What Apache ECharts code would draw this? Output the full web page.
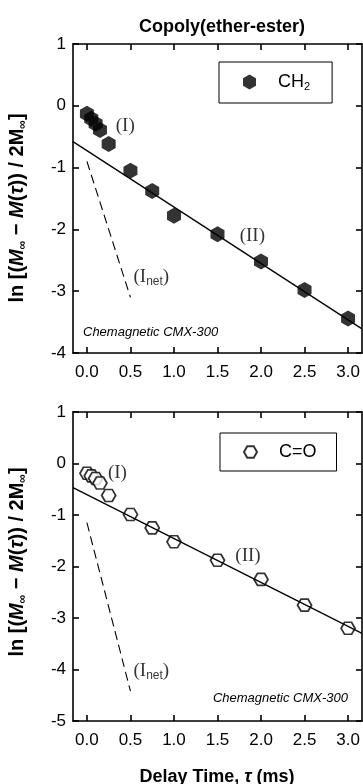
<!DOCTYPE html>
<html>
<head>
<meta charset="utf-8">
<script src="https://cdn.jsdelivr.net/npm/echarts@6/dist/echarts.min.js"></script>
<style>
html,body{margin:0;padding:0;background:#fff;}
#chart{width:363px;height:784px;}
</style>
</head>
<body>
<div id="chart"></div>
<script>
// ---- data ----
const xTicks = [0, 0.5, 1, 1.5, 2, 2.5, 3];
const tau = [0, 0.05, 0.1, 0.15, 0.25, 0.5, 0.75, 1, 1.5, 2, 2.5, 3];
const ch2 = [-0.13, -0.21, -0.29, -0.39, -0.62, -1.05, -1.38, -1.78, -2.08, -2.52, -2.98, -3.44];
const co = [-0.19, -0.24, -0.29, -0.38, -0.62, -0.99, -1.25, -1.52, -1.88, -2.25, -2.75, -3.2];
const fitX = [-0.16, 3.16];
const ch2Fit = [-0.58, -3.61];
const coFit = [-0.47, -3.30];
const netX = [0, 0.5];
const ch2Net = [-0.9, -3.1];
const coNet = [-1.15, -4.42];
const topLabels = [['(I)', 0.44, -0.33], ['(II)', 1.9, -2.1], ['(Inet)', 0.74, -2.77]];
const botLabels = [['(I)', 0.35, -0.19], ['(II)', 1.85, -1.8], ['(Inet)', 0.74, -4.02]];

const SANS = 'Arial, "Liberation Sans", Helvetica, sans-serif';
const SERIF = '"Times New Roman", "Liberation Serif", serif';
const hex = 'path://M0,-1 L0.866,-0.5 L0.866,0.5 L0,1 L-0.866,0.5 L-0.866,-0.5 Z';
const hexFlat = 'path://M-1,0 L-0.5,-0.866 L0.5,-0.866 L1,0 L0.5,0.866 L-0.5,0.866 Z';

const zip = (xs, ys) => xs.map((x, i) => [x, ys[i]]);

function xAxes(gi) {
  const base = {
    type: 'value', gridIndex: gi, min: -0.16, max: 3.16,
    splitLine: {show: false},
    axisLine: {show: true, onZero: false, lineStyle: {color: '#000', width: 1.6}},
    axisTick: {show: true, inside: true, length: 6, customValues: xTicks, lineStyle: {color: '#000', width: 1.6}}
  };
  return [
    Object.assign({}, base, {position: 'bottom',
      axisLabel: {show: true, customValues: xTicks, margin: 11, color: '#000', fontSize: 17, fontFamily: SANS,
        formatter: v => v.toFixed(1)}}),
    Object.assign({}, base, {position: 'top', axisLabel: {show: false}})
  ];
}
function yAxes(gi, min) {
  const base = {
    type: 'value', gridIndex: gi, min: min, max: 1, interval: 1,
    splitLine: {show: false},
    axisLine: {show: true, onZero: false, lineStyle: {color: '#000', width: 1.6}},
    axisTick: {show: true, inside: true, length: 6, lineStyle: {color: '#000', width: 1.6}}
  };
  return [
    Object.assign({}, base, {position: 'left',
      axisLabel: {show: true, margin: 7, color: '#000', fontSize: 17, fontFamily: SANS}}),
    Object.assign({}, base, {position: 'right', axisLabel: {show: false}})
  ];
}

const annRich = {
  t: {fontFamily: SERIF, fontSize: 19, color: '#000', lineHeight: 22},
  s: {fontFamily: SANS, fontSize: 12, color: '#000', lineHeight: 11, verticalAlign: 'bottom', padding: [7, 0, 0, 0]}
};
function annFmt(p) {
  const n = p.data[2];
  if (n === '(Inet)') return '{t|(I}{s|net}{t|)}';
  return '{t|' + n + '}';
}
function annSeries(xi, yi, list) {
  return {
    type: 'scatter', xAxisIndex: xi, yAxisIndex: yi, symbolSize: 0, silent: true,
    data: list.map(d => [d[1], d[2], d[0]]),
    label: {show: true, position: 'inside', formatter: annFmt, rich: annRich}
  };
}

const yTitleRich = {
  b: {fontFamily: SANS, fontWeight: 'bold', fontSize: 20, color: '#000', lineHeight: 23},
  i: {fontFamily: SANS, fontWeight: 'bold', fontStyle: 'italic', fontSize: 20, color: '#000', lineHeight: 23},
  s: {fontFamily: SANS, fontWeight: 'bold', fontSize: 12, color: '#000', lineHeight: 12, verticalAlign: 'bottom', padding: [7, 0, 0, 0]}
};
const yTitleText = '{b|ln [(}{i|M}{s|∞}{b| − }{i|M}{b|(}{i|τ}{b|)) / 2M}{s|∞}{b|]}';

const chart = echarts.init(document.getElementById('chart'), null, {renderer: 'canvas'});
chart.setOption({
  animation: false,
  backgroundColor: '#fff',
  grid: [
    {left: 73, top: 44, width: 289, height: 309},
    {left: 73, top: 412, width: 289, height: 309}
  ],
  xAxis: [...xAxes(0), ...xAxes(1)],
  yAxis: [...yAxes(0, -4), ...yAxes(1, -5)],
  legend: [
    {data: [{name: 'CH2', icon: hex}], left: 219, top: 62, selectedMode: false,
     borderColor: '#000', borderWidth: 1, padding: [11, 22, 11, 24],
     itemWidth: 13, itemHeight: 15,
     formatter: () => '{a|CH}{s|2}',
     textStyle: {rich: {
       a: {fontFamily: SANS, fontSize: 18, color: '#000', lineHeight: 20, padding: [0, 0, 0, 17]},
       s: {fontFamily: SANS, fontSize: 11, color: '#000', lineHeight: 11, verticalAlign: 'bottom', padding: [6, 0, 0, 0]}
     }}},
    {data: [{name: 'C=O', icon: hexFlat}], left: 220, top: 433, selectedMode: false,
     borderColor: '#000', borderWidth: 1, padding: [10, 20, 10, 23],
     itemWidth: 13, itemHeight: 12,
     formatter: () => '{a|C=O}',
     textStyle: {rich: {
       a: {fontFamily: SANS, fontSize: 18, color: '#000', lineHeight: 20, padding: [0, 0, 0, 17]}
     }}}
  ],
  title: [
    {text: 'Copoly(ether-ester)', left: 217, top: 13, textAlign: 'center',
     textStyle: {fontFamily: SANS, fontWeight: 'bold', fontSize: 18, color: '#000'}}
  ],
  graphic: [
    {type: 'text', x: 17, y: 208, rotation: Math.PI / 2,
     style: {text: yTitleText, rich: yTitleRich, align: 'center', verticalAlign: 'middle'}},
    {type: 'text', x: 17, y: 562, rotation: Math.PI / 2,
     style: {text: yTitleText, rich: yTitleRich, align: 'center', verticalAlign: 'middle'}},
    {type: 'text', x: 217, y: 777,
     style: {text: '{b|Delay Time, }{i|τ}{b| (ms)}', align: 'center', verticalAlign: 'middle',
       rich: {
         b: {fontFamily: SANS, fontWeight: 'bold', fontSize: 18, color: '#000'},
         i: {fontFamily: SANS, fontWeight: 'bold', fontStyle: 'italic', fontSize: 18, color: '#000'}
       }}},
    {type: 'text', x: 83, y: 332,
     style: {text: 'Chemagnetic CMX-300', fontFamily: SANS, fontStyle: 'italic', fontSize: 13, fill: '#000',
       align: 'left', verticalAlign: 'middle'}},
    {type: 'text', x: 348, y: 698,
     style: {text: 'Chemagnetic CMX-300', fontFamily: SANS, fontStyle: 'italic', fontSize: 13, fill: '#000',
       align: 'right', verticalAlign: 'middle'}}
  ],
  series: [
    {name: 'CH2 fit', type: 'line', xAxisIndex: 0, yAxisIndex: 0, showSymbol: false, silent: true,
     data: zip(fitX, ch2Fit), lineStyle: {color: '#000', width: 1.3}},
    {name: 'CH2 net', type: 'line', xAxisIndex: 0, yAxisIndex: 0, showSymbol: false, silent: true,
     data: zip(netX, ch2Net), lineStyle: {color: '#000', width: 1.1, type: [9, 5]}},
    {name: 'CH2', type: 'scatter', xAxisIndex: 0, yAxisIndex: 0, symbol: hex, symbolSize: [14, 16],
     data: zip(tau, ch2), itemStyle: {color: '#000'}},
    annSeries(0, 0, topLabels),
    {name: 'CO fit', type: 'line', xAxisIndex: 2, yAxisIndex: 2, showSymbol: false, silent: true,
     data: zip(fitX, coFit), lineStyle: {color: '#000', width: 1.3}},
    {name: 'CO net', type: 'line', xAxisIndex: 2, yAxisIndex: 2, showSymbol: false, silent: true,
     data: zip(netX, coNet), lineStyle: {color: '#000', width: 1.1, type: [9, 5]}},
    {name: 'C=O', type: 'scatter', xAxisIndex: 2, yAxisIndex: 2, symbol: hexFlat, symbolSize: [14, 12],
     data: zip(tau, co), itemStyle: {color: '#fff', borderColor: '#000', borderWidth: 1.7}},
    annSeries(2, 2, botLabels)
  ]
});
</script>
</body>
</html>
